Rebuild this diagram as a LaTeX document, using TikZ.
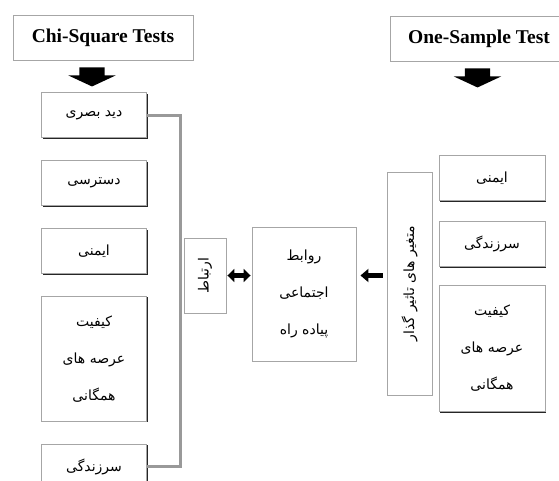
\documentclass[tikz,border=0pt]{standalone}
\usepackage{fontspec}
\setmainfont{Liberation Serif}
\newfontfamily\persianfont[Script=Arabic]{DejaVu Sans}
\TeXXeTstate=1
\usepackage{tikz}
\usetikzlibrary{positioning,shapes,shadows,arrows.meta,calc}
\newcommand{\fatxt}[1]{{\persianfont\beginR #1\endR}}

\begin{document}
\begin{tikzpicture}[x=1pt,y=-1pt,node distance=22pt,
            boxshadow/.style={drop shadow={shadow xshift=1.2pt,shadow yshift=-1.2pt,fill=black!85,opacity=1}},
            testbox/.style={draw=gray!70,line width=1pt,fill=white,rectangle,minimum height=45pt,font=\fontsize{19.5}{22}\selectfont\bfseries,boxshadow},
            itembox/.style={draw=gray!70,line width=0.9pt,fill=white,rectangle,minimum width=105pt,minimum height=45pt,font=\fontsize{14}{37}\selectfont,align=center,boxshadow},
            downarrow/.style={single arrow,draw=none,fill=black,minimum height=19pt,minimum width=47pt,single arrow head extend=11pt,single arrow tip angle=130,rotate=-90,inner sep=0pt},
            thickarrow/.style={line width=4.5pt,-{Triangle[length=8pt,width=13pt]}},
            bracket/.style={draw=gray!80,line width=3pt}]
            \useasboundingbox (0,0) rectangle (559,480);

            \node[testbox, minimum width=180pt](chi) at (103,37.5){Chi-Square Tests};
            \node[downarrow](chiarrow) at (92,74){\rule{0pt}{25pt}};
            \node[testbox, minimum width=178pt](one) at (479,38.5){One-Sample Test};
            \node[downarrow](onearrow) at (477.5,75){\rule{0pt}{25pt}};

            \node[itembox](d1) at (94,115){\fatxt{دید بصری}};
            \node[itembox, below=of d1](d2){\fatxt{دسترسی}};
            \node[itembox, below=of d2](d3){\fatxt{ایمنی}};
            \node[itembox, minimum height=125pt, below=of d3](d4){\fatxt{کیفیت}\\\fatxt{عرصه های}\\\fatxt{همگانی}};
            \node[itembox, below=of d4](d5){\fatxt{سرزندگی}};
            \draw[bracket](d1.east) -- ++(34pt,0pt) |- (d5.east);

            \node[itembox, minimum width=42pt, minimum height=75pt](link) at (205,275.5){\rotatebox{90}{\fatxt{ارتباط}}};
            \node[itembox, minimum width=104pt, minimum height=134pt](rel) at (304,294){\fatxt{روابط}\\\fatxt{اجتماعی}\\\fatxt{پیاده راه}};
            \draw[line width=4.5pt, {Triangle[length=7pt,width=13pt]}-{Triangle[length=7pt,width=13pt]}, shorten <=1pt, shorten >=1pt](link.east) -- (link.east -| rel.west);

            \node[itembox, minimum width=45pt, minimum height=223pt](var) at (409.5,283.5){\rotatebox{90}{\fatxt{متغیر های تاثیر گذار}}};
            \draw[thickarrow, shorten <=4pt, shorten >=4pt](var.west |- link.east) -- (rel.east |- link.east);

            \node[itembox, minimum width=106pt](r1) at (492,178){\fatxt{ایمنی}};
            \node[itembox, minimum width=106pt, below=20pt of r1](r2){\fatxt{سرزندگی}};
            \node[itembox, minimum width=106pt, minimum height=126pt, below=18pt of r2](r3){\fatxt{کیفیت}\\\fatxt{عرصه های}\\\fatxt{همگانی}};
\end{tikzpicture}
\end{document}
